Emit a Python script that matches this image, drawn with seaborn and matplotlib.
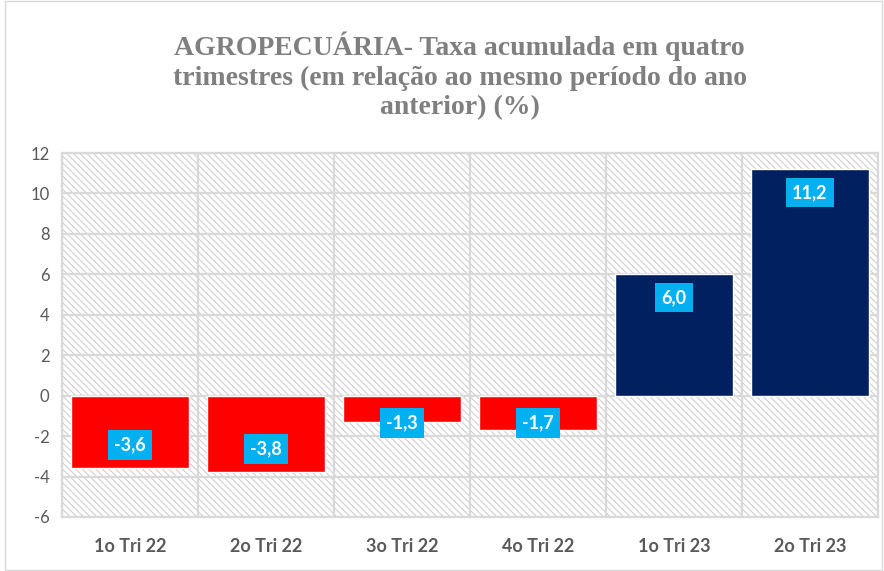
import pandas as pd
import matplotlib
matplotlib.use('Agg')
import matplotlib.pyplot as plt
from matplotlib.patches import Rectangle
import seaborn as sns

# Dados
trimestres = ['1o Tri 22', '2o Tri 22', '3o Tri 22', '4o Tri 22', '1o Tri 23', '2o Tri 23']
taxas = [-3.6, -3.8, -1.3, -1.7, 6.0, 11.2]
rotulos = ['-3,6', '-3,8', '-1,3', '-1,7', '6,0', '11,2']
y_ticks = [-6, -4, -2, 0, 2, 4, 6, 8, 10, 12]

df = pd.DataFrame({'trimestre': trimestres, 'taxa': taxas})
df['sinal'] = ['neg' if v < 0 else 'pos' for v in taxas]

sns.set_theme(style='white')
plt.rcParams['font.family'] = ['Lato', 'DejaVu Sans']
plt.rcParams['axes.unicode_minus'] = False
plt.rcParams['hatch.linewidth'] = 0.8
plt.rcParams['hatch.color'] = '#D0D0D0'

fig = plt.figure(figsize=(8.84, 5.71), dpi=100)
ax = fig.add_axes([0.0701, 0.0946, 0.9231, 0.6374])

# Fundo hachurado
fundo = Rectangle((0, 0), 1, 1, transform=ax.transAxes, facecolor='white',
                  edgecolor='#D0D0D0', hatch='\\\\\\\\\\', linewidth=0, zorder=0)
ax.add_patch(fundo)

sns.barplot(data=df, x='trimestre', y='taxa', hue='sinal',
            palette={'neg': '#FF0000', 'pos': '#002060'},
            dodge=False, width=0.865, legend=False, ax=ax, zorder=3,
            saturation=1)

ax.set_ylim(-6, 12)
ax.set_yticks(y_ticks)
ax.set_xlim(-0.5, len(trimestres) - 0.5)

# Grade
for y in y_ticks:
    ax.axhline(y, color='#D9D9D9', linewidth=1.6, zorder=1)
for i in range(len(trimestres) + 1):
    ax.axvline(i - 0.5, color='#D9D9D9', linewidth=1.6, zorder=1)

for s in ax.spines.values():
    s.set_color('#D9D9D9')
    s.set_linewidth(1.6)

ax.tick_params(axis='y', labelsize=12, colors='#595959', length=0, pad=9)
ax.tick_params(axis='x', labelsize=13, colors='#595959', length=0, pad=15)
for lbl in ax.get_xticklabels():
    lbl.set_fontweight('bold')
ax.set_xlabel('')
ax.set_ylabel('')

# Rotulos de dados
for i, (v, txt) in enumerate(zip(taxas, rotulos)):
    sinal = 1 if v > 0 else -1
    pos = sinal * max(abs(v) - 1.15, 1.35)
    ax.text(i, pos, txt, ha='center', va='center', color='white',
            fontsize=13, fontweight='bold', zorder=5,
            bbox=dict(boxstyle='square,pad=0.35', facecolor='#00B0F0', edgecolor='none'))

fig.text(0.52, 0.867,
         'AGROPECUÁRIA- Taxa acumulada em quatro\ntrimestres (em relação ao mesmo período do ano\nanterior) (%)',
         ha='center', va='center', fontsize=20, fontweight='bold', color='#7F7F7F',
         family=['Liberation Serif', 'DejaVu Serif'], linespacing=1.25)

fig.patches.append(Rectangle((0.006, 0.002), 0.992, 0.996, transform=fig.transFigure,
                             fill=False, edgecolor='#D9D9D9', linewidth=1))

plt.savefig('out.png', dpi=100)
plt.close()
